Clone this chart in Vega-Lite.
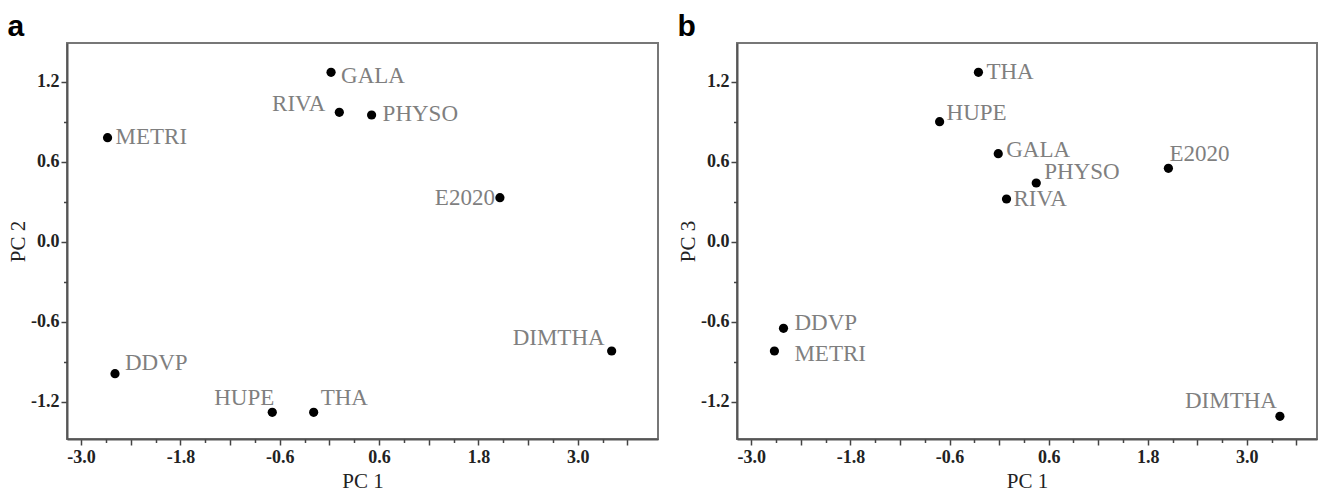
{
  "$schema": "https://vega.github.io/schema/vega-lite/v6.json",
  "background": "white",
  "padding": {"left": 6, "top": 11, "right": 0, "bottom": 0},
  "spacing": 17,
  "config": {
    "view": {"stroke": "#777777", "strokeWidth": 2},
    "axis": {
      "grid": false,
      "domainColor": "#555555",
      "domainWidth": 2,
      "tickColor": "#444444",
      "tickWidth": 1.5,
      "labelFont": "Liberation Serif",
      "labelFontWeight": "bold",
      "labelFontSize": 18,
      "labelColor": "#222222",
      "titleFont": "Liberation Serif",
      "titleFontWeight": "normal",
      "titleFontSize": 21,
      "titleColor": "#222222"
    },
    "title": {"font": "Liberation Sans", "fontWeight": "bold", "fontSize": 30, "anchor": "start", "frame": "bounds", "color": "#000000", "offset": 1, "baseline": "alphabetic"},
    "text": {"font": "Liberation Serif", "fontSize": 23, "color": "#7f7f7f", "baseline": "middle"}
  },
  "datasets": {
    "a": [
      {"name": "GALA", "pc1": 0.02, "pc2": 1.27},
      {"name": "RIVA", "pc1": 0.12, "pc2": 0.97},
      {"name": "PHYSO", "pc1": 0.51, "pc2": 0.95},
      {"name": "METRI", "pc1": -2.68, "pc2": 0.78},
      {"name": "E2020", "pc1": 2.06, "pc2": 0.33},
      {"name": "DIMTHA", "pc1": 3.41, "pc2": -0.82},
      {"name": "DDVP", "pc1": -2.59, "pc2": -0.99},
      {"name": "HUPE", "pc1": -0.69, "pc2": -1.28},
      {"name": "THA", "pc1": -0.19, "pc2": -1.28}
    ],
    "b": [
      {"name": "THA", "pc1": -0.25, "pc3": 1.27},
      {"name": "HUPE", "pc1": -0.72, "pc3": 0.9},
      {"name": "GALA", "pc1": -0.01, "pc3": 0.66},
      {"name": "PHYSO", "pc1": 0.45, "pc3": 0.44},
      {"name": "RIVA", "pc1": 0.09, "pc3": 0.32},
      {"name": "E2020", "pc1": 2.05, "pc3": 0.55},
      {"name": "DDVP", "pc1": -2.61, "pc3": -0.65},
      {"name": "METRI", "pc1": -2.72, "pc3": -0.82},
      {"name": "DIMTHA", "pc1": 3.4, "pc3": -1.31}
    ]
  },
  "hconcat": [
    {
      "title": {"text": "a"},
      "width": 591,
      "height": 396,
      "data": {"name": "a"},
      "resolve": {"axis": {"x": "independent", "y": "independent"}},
      "encoding": {
        "x": {"field": "pc1", "type": "quantitative", "scale": {"domain": [-3.17, 3.97], "nice": false, "zero": false}, "axis": null},
        "y": {"field": "pc2", "type": "quantitative", "scale": {"domain": [-1.48, 1.49], "nice": false, "zero": false}, "axis": null},
        "text": {"field": "name"}
      },
      "layer": [
        {
          "mark": {"type": "point", "filled": true, "size": 85, "color": "#000000", "opacity": 1},
          "encoding": {
            "x": {"field": "pc1", "type": "quantitative", "scale": {"domain": [-3.17, 3.97], "nice": false, "zero": false},
              "axis": {"orient": "bottom", "title": "PC 1", "values": [-3, -2.4, -1.8, -1.2, -0.6, 0, 0.6, 1.2, 1.8, 2.4, 3, 3.6], "tickSize": 6, "labelPadding": 3, "titlePadding": 4, "labelOverlap": false, "labelFlush": false,
                "labelExpr": "indexof(['-3.0','-1.8','-0.6','0.6','1.8','3.0'], replace(format(datum.value,'.1f'),'\u2212','-')) >= 0 ? replace(format(datum.value,'.1f'),'\u2212','-') : ''"}},
            "y": {"field": "pc2", "type": "quantitative", "scale": {"domain": [-1.48, 1.49], "nice": false, "zero": false},
              "axis": {"orient": "left", "title": "PC 2", "values": [-1.2, -0.6, 0, 0.6, 1.2], "tickSize": 6, "labelPadding": 2, "titlePadding": 2, "labelOverlap": false, "labelFlush": false,
                "labelExpr": "replace(format(datum.value,'.1f'),'\u2212','-')"}}
          }
        },
        {
          "transform": [{"filter": "datum.name === 'GALA'"}],
          "mark": {"type": "text", "align": "left", "dx": 10, "dy": 4},
          "encoding": {
            "x": {"field": "pc1", "type": "quantitative", "scale": {"domain": [-3.17, 3.97], "nice": false, "zero": false},
              "axis": {"orient": "bottom", "title": null, "values": [-2.7, -2.1, -1.5, -0.9, -0.3, 0.3, 0.9, 1.5, 2.1, 2.7, 3.3], "tickSize": 3.5, "labels": false, "domain": false}},
            "y": {"field": "pc2", "type": "quantitative", "scale": {"domain": [-1.48, 1.49], "nice": false, "zero": false},
              "axis": {"orient": "left", "title": null, "values": [-0.9, -0.3, 0.3, 0.9], "tickSize": 3.5, "labels": false, "domain": false}}
          }
        },
        {"transform": [{"filter": "datum.name === 'RIVA'"}], "mark": {"type": "text", "align": "right", "dx": -14, "dy": -8}},
        {"transform": [{"filter": "datum.name === 'PHYSO'"}], "mark": {"type": "text", "align": "left", "dx": 11, "dy": -1}},
        {"transform": [{"filter": "datum.name === 'METRI'"}], "mark": {"type": "text", "align": "left", "dx": 8, "dy": -1}},
        {"transform": [{"filter": "datum.name === 'E2020'"}], "mark": {"type": "text", "align": "right", "dx": -5, "dy": 0}},
        {"transform": [{"filter": "datum.name === 'DIMTHA'"}], "mark": {"type": "text", "align": "right", "dx": -7, "dy": -13}},
        {"transform": [{"filter": "datum.name === 'DDVP'"}], "mark": {"type": "text", "align": "left", "dx": 10, "dy": -11}},
        {"transform": [{"filter": "datum.name === 'HUPE'"}], "mark": {"type": "text", "align": "right", "dx": 2, "dy": -14}},
        {"transform": [{"filter": "datum.name === 'THA'"}], "mark": {"type": "text", "align": "left", "dx": 7, "dy": -14}}
      ]
    },
    {
      "title": {"text": "b"},
      "width": 580,
      "height": 396,
      "data": {"name": "b"},
      "resolve": {"axis": {"x": "independent", "y": "independent"}},
      "encoding": {
        "x": {"field": "pc1", "type": "quantitative", "scale": {"domain": [-3.173, 3.849], "nice": false, "zero": false}, "axis": null},
        "y": {"field": "pc3", "type": "quantitative", "scale": {"domain": [-1.48, 1.49], "nice": false, "zero": false}, "axis": null},
        "text": {"field": "name"}
      },
      "layer": [
        {
          "mark": {"type": "point", "filled": true, "size": 85, "color": "#000000", "opacity": 1},
          "encoding": {
            "x": {"field": "pc1", "type": "quantitative", "scale": {"domain": [-3.173, 3.849], "nice": false, "zero": false},
              "axis": {"orient": "bottom", "title": "PC 1", "values": [-3, -2.4, -1.8, -1.2, -0.6, 0, 0.6, 1.2, 1.8, 2.4, 3, 3.6], "tickSize": 6, "labelPadding": 3, "titlePadding": 4, "labelOverlap": false, "labelFlush": false,
                "labelExpr": "indexof(['-3.0','-1.8','-0.6','0.6','1.8','3.0'], replace(format(datum.value,'.1f'),'\u2212','-')) >= 0 ? replace(format(datum.value,'.1f'),'\u2212','-') : ''"}},
            "y": {"field": "pc3", "type": "quantitative", "scale": {"domain": [-1.48, 1.49], "nice": false, "zero": false},
              "axis": {"orient": "left", "title": "PC 3", "values": [-1.2, -0.6, 0, 0.6, 1.2], "tickSize": 6, "labelPadding": 2, "titlePadding": 2, "labelOverlap": false, "labelFlush": false,
                "labelExpr": "replace(format(datum.value,'.1f'),'\u2212','-')"}}
          }
        },
        {
          "transform": [{"filter": "datum.name === 'THA'"}],
          "mark": {"type": "text", "align": "left", "dx": 8, "dy": 0},
          "encoding": {
            "x": {"field": "pc1", "type": "quantitative", "scale": {"domain": [-3.173, 3.849], "nice": false, "zero": false},
              "axis": {"orient": "bottom", "title": null, "values": [-2.7, -2.1, -1.5, -0.9, -0.3, 0.3, 0.9, 1.5, 2.1, 2.7, 3.3], "tickSize": 3.5, "labels": false, "domain": false}},
            "y": {"field": "pc3", "type": "quantitative", "scale": {"domain": [-1.48, 1.49], "nice": false, "zero": false},
              "axis": {"orient": "left", "title": null, "values": [-0.9, -0.3, 0.3, 0.9], "tickSize": 3.5, "labels": false, "domain": false}}
          }
        },
        {"transform": [{"filter": "datum.name === 'HUPE'"}], "mark": {"type": "text", "align": "left", "dx": 7, "dy": -9}},
        {"transform": [{"filter": "datum.name === 'GALA'"}], "mark": {"type": "text", "align": "left", "dx": 8, "dy": -4}},
        {"transform": [{"filter": "datum.name === 'PHYSO'"}], "mark": {"type": "text", "align": "left", "dx": 8, "dy": -11}},
        {"transform": [{"filter": "datum.name === 'RIVA'"}], "mark": {"type": "text", "align": "left", "dx": 7, "dy": 0}},
        {"transform": [{"filter": "datum.name === 'E2020'"}], "mark": {"type": "text", "align": "left", "dx": 1, "dy": -14}},
        {"transform": [{"filter": "datum.name === 'DDVP'"}], "mark": {"type": "text", "align": "left", "dx": 11, "dy": -5}},
        {"transform": [{"filter": "datum.name === 'METRI'"}], "mark": {"type": "text", "align": "left", "dx": 20, "dy": 3}},
        {"transform": [{"filter": "datum.name === 'DIMTHA'"}], "mark": {"type": "text", "align": "right", "dx": -3, "dy": -15}}
      ]
    }
  ]
}
